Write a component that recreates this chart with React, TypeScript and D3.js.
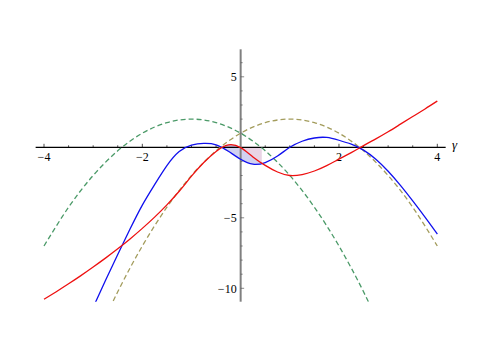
import React, { useEffect, useRef } from 'react';
import * as d3 from 'd3';

const WIDTH = 498;
const HEIGHT = 352;

// values, gamma on x
const gammaX = [-4, -3.75, -3.5, -3.25, -3, -2.75, -2.5, -2.25, -2, -1.75, -1.5, -1.25, -1, -0.75, -0.5, -0.25, 0, 0.25, 0.5, 0.75, 1, 1.25, 1.5, 1.75, 2, 2.25, 2.5, 2.75, 3, 3.25, 3.5, 3.75, 4];
const blueY = [-19.5, -17.4, -15.3, -13.3, -11.35, -9.45, -7.6, -5.8, -4.1, -2.65, -1.3, -0.3, 0.15, 0.28, 0.18, -0.28, -0.85, -1.2, -1.08, -0.62, 0, 0.43, 0.66, 0.7, 0.5, 0.22, -0.2, -0.85, -1.7, -2.7, -3.8, -4.95, -6.15];
const redY = [-10.78, -10.24, -9.68, -9.1, -8.49, -7.86, -7.2, -6.5, -5.75, -4.95, -4.08, -3.12, -2.05, -1.08, -0.29, 0.17, -0.02, -0.68, -1.28, -1.75, -2.0, -1.93, -1.68, -1.3, -0.84, -0.38, 0.12, 0.6, 1.1, 1.64, 2.18, 2.72, 3.28];

const dashX = [-4, -3.5, -3, -2.5, -2, -1.5, -1, -0.5, 0, 0.5, 1, 1.5, 2, 2.5, 3, 3.5, 4];
const greenY = [-7, -4.25, -2, -0.25, 1, 1.75, 2, 1.75, 1, -0.25, -2, -4.25, -7, -10.25, -14, -18.25, -23];
const oliveY = [-23, -18.25, -14, -10.25, -7, -4.25, -2, -0.25, 1, 1.75, 2, 1.75, 1, -0.25, -2, -4.25, -7];

const shadeFrom = -0.39;
const shadeTo = 0.43;

const xTicks = [-4, -2, 2, 4];
const yTicks = [-10, -5, 5];

export default function App() {
  const svgRef = useRef<SVGSVGElement>(null);

  useEffect(() => {
    const svg = d3.select(svgRef.current);
    svg.selectAll('*').remove();

    const x = d3.scaleLinear().domain([-4, 4]).range([44, 437.3]);
    const y = d3.scaleLinear().domain([-10, 5]).range([288.3, 76.8]);
    const top = y(6.95);
    const bottom = y(-10.95);
    const left = x(-4.17);
    const right = x(4.17);

    const defs = svg.append('defs');
    defs.append('clipPath').attr('id', 'plot-clip')
      .append('rect')
      .attr('x', left).attr('y', top)
      .attr('width', right - left).attr('height', bottom - top);
    defs.append('clipPath').attr('id', 'shade-clip')
      .append('rect')
      .attr('x', x(shadeFrom)).attr('y', top)
      .attr('width', x(shadeTo) - x(shadeFrom)).attr('height', bottom - top);

    const solid = gammaX.map((v, i) => ({ x: v, blue: blueY[i], red: redY[i] }));
    const dashed = dashX.map((v, i) => ({ x: v, green: greenY[i], olive: oliveY[i] }));
    const curve = d3.curveNatural;

    // filling between the two solid curves, and from red to the axis
    const fills = svg.append('g').attr('clip-path', 'url(#shade-clip)');
    fills.append('path')
      .datum(solid)
      .attr('fill', '#6666cc')
      .attr('fill-opacity', 0.3)
      .attr('d', d3.area<any>().curve(curve).x(d => x(d.x)).y0(d => y(d.red)).y1(d => y(d.blue)));
    fills.append('path')
      .datum(solid)
      .attr('fill', '#9a3a8a')
      .attr('fill-opacity', 0.22)
      .attr('d', d3.area<any>().curve(curve).x(d => x(d.x)).y0(y(0)).y1(d => y(d.red)));

    // axes
    const axes = svg.append('g');
    const x0 = x(0);
    const y0 = y(0);
    axes.append('line')
      .attr('x1', left).attr('x2', right).attr('y1', y0).attr('y2', y0)
      .attr('stroke', '#000').attr('stroke-width', 1.2);
    axes.append('line')
      .attr('x1', x0).attr('x2', x0).attr('y1', top).attr('y2', bottom)
      .attr('stroke', '#808080').attr('stroke-width', 2);

    const xMinor = d3.range(-4, 4.01, 0.5).filter(v => v !== 0);
    axes.selectAll('.xt').data(xMinor).join('line')
      .attr('x1', d => x(d)).attr('x2', d => x(d))
      .attr('y1', y0).attr('y2', d => y0 - (d % 2 === 0 ? 3.5 : 2))
      .attr('stroke', '#000').attr('stroke-width', 0.7);

    const yMinor = d3.range(-10, 7, 1).filter(v => v !== 0);
    axes.selectAll('.yt').data(yMinor).join('line')
      .attr('x1', x0).attr('x2', d => x0 + (d % 5 === 0 ? 3.5 : 2))
      .attr('y1', d => y(d)).attr('y2', d => y(d))
      .attr('stroke', '#555').attr('stroke-width', 0.7);

    const font = '"Liberation Serif", "DejaVu Serif", serif';
    axes.selectAll('.xl').data(xTicks).join('text')
      .attr('x', d => x(d)).attr('y', y0 + 13.5)
      .attr('text-anchor', 'middle')
      .attr('font-family', font).attr('font-size', 12)
      .text(d => d3.format('')(d).replace('-', '\u2212'));
    axes.selectAll('.yl').data(yTicks).join('text')
      .attr('x', x0 - 4).attr('y', d => y(d)).attr('dy', '0.35em')
      .attr('text-anchor', 'end')
      .attr('font-family', font).attr('font-size', 12)
      .text(d => d3.format('')(d).replace('-', '\u2212'));
    axes.append('text')
      .attr('x', 452).attr('y', y0 + 2)
      .attr('font-family', font).attr('font-size', 13).attr('font-style', 'italic')
      .text('γ');

    // curves
    const curves = svg.append('g').attr('clip-path', 'url(#plot-clip)').attr('fill', 'none');
    const line = (key: string) => d3.line<any>().curve(curve).x(d => x(d.x)).y(d => y(d[key]));

    curves.append('path').datum(dashed)
      .attr('stroke', '#4b9a68').attr('stroke-width', 1.3).attr('stroke-dasharray', '5,3')
      .attr('d', line('green'));
    curves.append('path').datum(dashed)
      .attr('stroke', '#a39c5c').attr('stroke-width', 1.3).attr('stroke-dasharray', '5,3')
      .attr('d', line('olive'));
    curves.append('path').datum(solid)
      .attr('stroke', '#1010ee').attr('stroke-width', 1.3)
      .attr('d', line('blue'));
    curves.append('path').datum(solid)
      .attr('stroke', '#ee1010').attr('stroke-width', 1.3)
      .attr('d', line('red'));
  }, []);

  return (
    <svg
      ref={svgRef}
      width={WIDTH}
      height={HEIGHT}
      style={{ position: 'absolute', left: 0, top: 0, background: '#fff' }}
    />
  );
}
